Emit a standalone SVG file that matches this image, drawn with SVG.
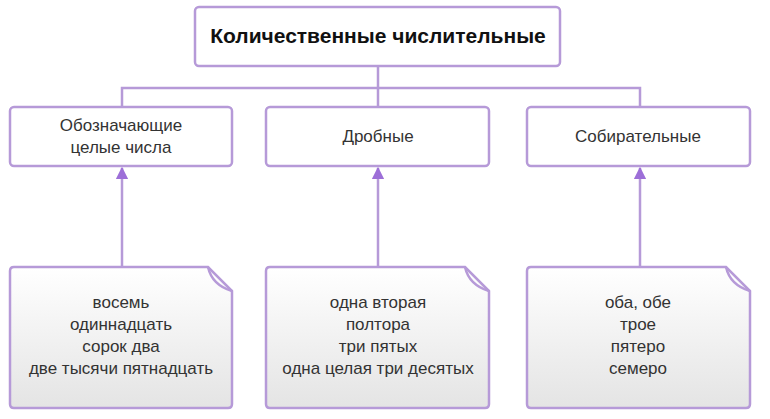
<svg xmlns="http://www.w3.org/2000/svg" width="770" height="419" viewBox="0 0 770 419">
<defs>
<linearGradient id="g" x1="0" y1="0" x2="0" y2="1"><stop offset="0" stop-color="#ffffff"/><stop offset="1" stop-color="#e4e4e4"/></linearGradient>
<marker id="a" viewBox="0 0 10 10" refX="9" refY="5" markerWidth="5" markerHeight="5" orient="auto"><path d="M0,0 L10,5 L0,10 z" fill="#9d6fd8"/></marker>
<style>
.b{fill:#fff;stroke:#b69ad8;stroke-width:2.5}
.n{fill:url(#g);stroke:#b69ad8;stroke-width:2.5}
.c{fill:none;stroke:#b69ad8;stroke-width:2.5}
.ar{fill:none;stroke:#b69ad8;stroke-width:2.5;marker-end:url(#a)}
text{font-family:"Liberation Sans",Arial,sans-serif;font-size:17px;fill:#333;text-anchor:middle}
.t{font-size:21px;font-weight:bold;fill:#111}
</style>
</defs>
<g id="connectors">
<path class="c" d="M378,66 V88 M122,107 V88 H640 V107 M378,88 V107"/>
<path class="ar" d="M122,267 V168"/>
<path class="ar" d="M378,267 V168"/>
<path class="ar" d="M640,267 V168"/>
</g>
<g id="root"><rect class="b" x="195" y="7" width="365" height="59" rx="4"/><text class="t" x="378" y="43">Количественные числительные</text></g>
<g id="n1"><rect class="b" x="10" y="107" width="222" height="59" rx="4"/><text x="121" y="131">Обозначающие</text><text x="121" y="153">целые числа</text></g>
<g id="n2"><rect class="b" x="266" y="107" width="223" height="59" rx="4"/><text x="378" y="142">Дробные</text></g>
<g id="n3"><rect class="b" x="527" y="107" width="223" height="59" rx="4"/><text x="638" y="142">Собирательные</text></g>
<g id="e1"><path class="n" d="M14,267 H208 L232,291 V404 Q232,408 228,408 H14 Q10,408 10,404 V271 Q10,267 14,267 Z"/><path class="c" d="M208,267 Q212,285 232,291"/>
<text x="121" y="308">восемь</text><text x="121" y="330">одиннадцать</text><text x="121" y="352">сорок два</text><text x="121" y="374">две тысячи пятнадцать</text></g>
<g id="e2"><path class="n" d="M270,267 H465 L489,291 V404 Q489,408 485,408 H270 Q266,408 266,404 V271 Q266,267 270,267 Z"/><path class="c" d="M465,267 Q469,285 489,291"/>
<text x="378" y="308">одна вторая</text><text x="378" y="330">полтора</text><text x="378" y="352">три пятых</text><text x="378" y="374">одна целая три десятых</text></g>
<g id="e3"><path class="n" d="M531,267 H726 L750,291 V404 Q750,408 746,408 H531 Q527,408 527,404 V271 Q527,267 531,267 Z"/><path class="c" d="M726,267 Q730,285 750,291"/>
<text x="638" y="308">оба, обе</text><text x="638" y="330">трое</text><text x="638" y="352">пятеро</text><text x="638" y="374">семеро</text></g>
</svg>
